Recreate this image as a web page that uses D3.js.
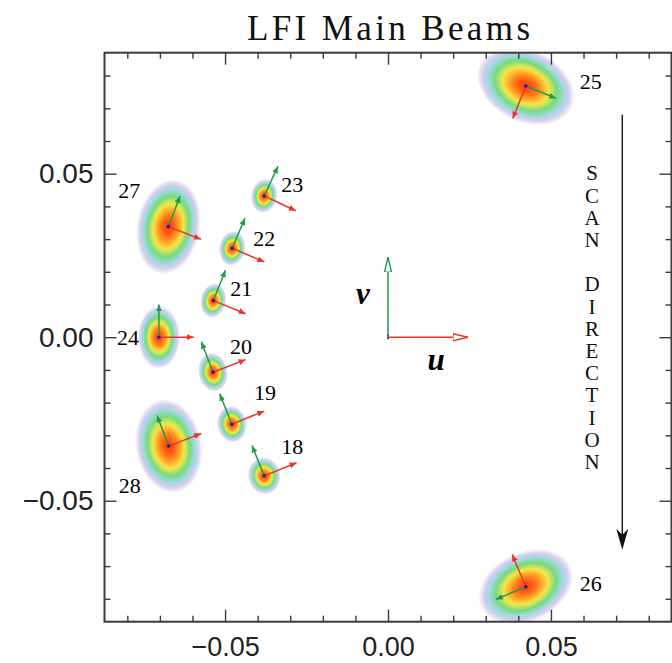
<!DOCTYPE html>
<html>
<head>
<meta charset="utf-8">
<script src="https://cdn.jsdelivr.net/npm/d3@7"></script>
<style>
  html, body { margin: 0; padding: 0; background: #fff; }
  svg { display: block; }
</style>
</head>
<body>
<svg id="chart" width="672" height="663"></svg>
<script>
// Beam identifiers (LFI feed horns)
const beamIds   = ["18", "19", "20", "21", "22", "23", "24", "25", "26", "27", "28"];
// Beam centres in (u, v)
const beamU     = [-0.0380, -0.0479, -0.0537, -0.0536, -0.0478, -0.0380, -0.0703, 0.0423, 0.0423, -0.0674, -0.0673];
const beamV     = [-0.0424, -0.0266, -0.0107, 0.0112, 0.0272, 0.0432, 0.0000, 0.0768, -0.0763, 0.0338, -0.0333];
// Beam extent: semi-major / semi-minor axes (u,v units) and major-axis tilt (deg)
const semiMajor = [0.0058, 0.0057, 0.0061, 0.0054, 0.0054, 0.0053, 0.0098, 0.0160, 0.0155, 0.0150, 0.0148];
const semiMinor = [0.0051, 0.0046, 0.0046, 0.0040, 0.0041, 0.0041, 0.0066, 0.0113, 0.0108, 0.0099, 0.0103];
const tiltDeg   = [100, 100, 100, 80, 80, 80, 90, -25, 25, 80, 100];
// Polarisation frame: angle of the red (u') arrow, deg; green (v') is +90
const polDeg    = [22, 22, 21, -22, -23, -25, 0, -112, 113, -21, 21];

// Axis ticks
const majorTicks  = [-0.05, 0.00, 0.05];
const tickLabels  = ["\u22120.05", "0.00", "0.05"];
const minorTicks  = [-0.08, -0.07, -0.06, -0.04, -0.03, -0.02, -0.01, 0.01, 0.02, 0.03, 0.04, 0.06, 0.07, 0.08];

const titleText = "LFI Main Beams";
const scanText  = "SCAN DIRECTION";

// ---- layout ----
const svg = d3.select("#chart");
const plot = { left: 104.5, right: 671.5, top: 52.7, bottom: 621.7 };
const x = d3.scaleLinear().domain([-0.087, 0.087]).range([plot.left, plot.right]);
const y = d3.scaleLinear().domain([-0.087, 0.087]).range([plot.bottom, plot.top]);
const kx = x(1) - x(0);

// label offsets (px) from each beam centre
const labelOffset = {
  "18": [28, -30], "19": [33, -32], "20": [28, -26], "21": [28, -12], "22": [32, -10],
  "23": [28, -12], "24": [-31, 0], "25": [65, -5], "26": [65, -3], "27": [-39, -36], "28": [-39, 39]
};
const redLen = 0.0107, greenLen = 0.0100, refLen = 0.0245;
const RED = "#ec3426", GREEN = "#239a4a";

const defs = svg.append("defs");

// rainbow beam profile
const grad = defs.append("radialGradient").attr("id", "beamGrad")
  .attr("cx", 0.5).attr("cy", 0.5).attr("r", 0.5);
[
  [0.00, "#ff3a0c", 1], [0.12, "#ff5212", 1], [0.27, "#ff8a1e", 1], [0.38, "#ffbe30", 1],
  [0.46, "#f2e648", 1], [0.54, "#b6e466", 1], [0.62, "#7cd87e", 1], [0.70, "#88dcb6", 1],
  [0.78, "#a8d4e6", 0.95], [0.86, "#c4c2e6", 0.8], [0.94, "#d8d0ec", 0.45], [1.00, "#ffffff", 0]
].forEach(([o, c, op]) => grad.append("stop").attr("offset", o).attr("stop-color", c).attr("stop-opacity", op));

defs.append("clipPath").attr("id", "plotClip").append("rect")
  .attr("x", plot.left).attr("y", plot.top)
  .attr("width", plot.right - plot.left).attr("height", plot.bottom - plot.top);

function headMarker(id, color, len, half, open) {
  defs.append("marker").attr("id", id)
    .attr("markerUnits", "userSpaceOnUse")
    .attr("viewBox", `0 ${-half - 2} ${len + 2} ${2 * half + 4}`)
    .attr("refX", len).attr("refY", 0)
    .attr("markerWidth", len + 2).attr("markerHeight", 2 * half + 4)
    .attr("orient", "auto")
    .append("path")
    .attr("d", `M0,${-half}L${len},0L0,${half}Z`)
    .attr("fill", open ? "#fff" : color)
    .attr("stroke", open ? color : "none")
    .attr("stroke-width", open ? 1.4 : 0);
}
headMarker("hRed", RED, 7, 3, false);
headMarker("hGreen", GREEN, 7, 3, false);
headMarker("oRed", RED, 15, 3.5, true);
headMarker("oGreen", GREEN, 15, 3.5, true);

// ---- title ----
svg.append("text")
  .attr("x", (plot.left + plot.right) / 2 + 0.5).attr("y", 40)
  .attr("text-anchor", "middle")
  .attr("font-family", "'Liberation Serif', 'Times New Roman', serif")
  .attr("font-size", 35)
  .attr("textLength", 283).attr("lengthAdjust", "spacing")
  .attr("fill", "#111")
  .text(titleText);

// ---- beams ----
const beams = beamIds.map((id, i) => ({
  id, u: beamU[i], v: beamV[i], a: semiMajor[i], b: semiMinor[i], tilt: tiltDeg[i], pol: polDeg[i]
}));

const gBeams = svg.append("g").attr("clip-path", "url(#plotClip)");
gBeams.selectAll("circle.beam").data(beams).join("circle")
  .attr("class", "beam")
  .attr("r", 1)
  .attr("transform", d => `translate(${x(d.u)},${y(d.v)}) rotate(${-d.tilt}) scale(${d.a * kx},${d.b * kx})`)
  .attr("fill", "url(#beamGrad)");

const rad = Math.PI / 180;
const gArrows = svg.append("g");
// green (v') arrows
gArrows.selectAll("line.g").data(beams).join("line").attr("class", "g")
  .attr("x1", d => x(d.u)).attr("y1", d => y(d.v))
  .attr("x2", d => x(d.u + greenLen * Math.cos((d.pol + 90) * rad)))
  .attr("y2", d => y(d.v + greenLen * Math.sin((d.pol + 90) * rad)))
  .attr("stroke", GREEN).attr("stroke-width", 1.5)
  .attr("marker-end", "url(#hGreen)");
// red (u') arrows
gArrows.selectAll("line.r").data(beams).join("line").attr("class", "r")
  .attr("x1", d => x(d.u)).attr("y1", d => y(d.v))
  .attr("x2", d => x(d.u + redLen * Math.cos(d.pol * rad)))
  .attr("y2", d => y(d.v + redLen * Math.sin(d.pol * rad)))
  .attr("stroke", RED).attr("stroke-width", 1.5)
  .attr("marker-end", "url(#hRed)");
// centre points
gArrows.selectAll("circle.c").data(beams).join("circle").attr("class", "c")
  .attr("cx", d => x(d.u)).attr("cy", d => y(d.v)).attr("r", 1.8)
  .attr("fill", "#24248a");

// beam labels
svg.append("g").selectAll("text").data(beams).join("text")
  .attr("x", d => x(d.u) + labelOffset[d.id][0])
  .attr("y", d => y(d.v) + labelOffset[d.id][1])
  .attr("dy", "0.35em")
  .attr("text-anchor", "middle")
  .attr("font-family", "'Liberation Serif', 'Times New Roman', serif")
  .attr("font-size", 22)
  .attr("fill", "#000")
  .text(d => d.id);

// ---- u / v reference frame ----
const gRef = svg.append("g");
gRef.append("line")
  .attr("x1", x(0)).attr("y1", y(0)).attr("x2", x(0)).attr("y2", y(refLen))
  .attr("stroke", GREEN).attr("stroke-width", 1.5).attr("marker-end", "url(#oGreen)");
gRef.append("line")
  .attr("x1", x(0)).attr("y1", y(0)).attr("x2", x(refLen)).attr("y2", y(0))
  .attr("stroke", RED).attr("stroke-width", 1.5).attr("marker-end", "url(#oRed)");
gRef.append("rect").attr("x", x(0) - 1).attr("y", y(0) - 3).attr("width", 2).attr("height", 5).attr("fill", "#6a4aa8");
gRef.append("text").attr("x", x(0) - 25).attr("y", y(0) - 44).attr("dy", "0.35em")
  .attr("text-anchor", "middle")
  .attr("font-family", "'Liberation Serif', 'Times New Roman', serif")
  .attr("font-size", 31).attr("font-style", "italic").attr("font-weight", "bold")
  .text("v");
gRef.append("text").attr("x", x(0) + 48).attr("y", y(0) + 22).attr("dy", "0.35em")
  .attr("text-anchor", "middle")
  .attr("font-family", "'Liberation Serif', 'Times New Roman', serif")
  .attr("font-size", 31).attr("font-style", "italic").attr("font-weight", "bold")
  .text("u");

// ---- scan direction ----
const scanX = 0.0719, scanTop = 0.0680, scanBot = -0.0650;
const gScan = svg.append("g");
gScan.append("line")
  .attr("x1", x(scanX)).attr("y1", y(scanTop)).attr("x2", x(scanX)).attr("y2", y(scanBot) - 12)
  .attr("stroke", "#222").attr("stroke-width", 1.5);
const tipX = x(scanX), tipY = y(scanBot);
gScan.append("path")
  .attr("d", `M${tipX},${tipY}L${tipX - 6},${tipY - 21}L${tipX},${tipY - 15}L${tipX + 6},${tipY - 21}Z`)
  .attr("fill", "#111");
gScan.selectAll("text").data(scanText.split("")).join("text")
  .attr("x", 592)
  .attr("y", (d, i) => 173 + i * 22.2)
  .attr("dy", "0.35em")
  .attr("text-anchor", "middle")
  .attr("font-family", "'Liberation Serif', 'Times New Roman', serif")
  .attr("font-size", 21)
  .attr("fill", "#111")
  .text(d => d);

// ---- axes ----
const axisColor = "#3a3a3a";
function styleAxis(g, labelled, fontSize) {
  g.select(".domain").remove();
  g.selectAll(".tick line").attr("stroke", axisColor).attr("stroke-width", 1.4);
  g.selectAll(".tick text")
    .attr("font-family", "'Liberation Sans', Arial, sans-serif")
    .attr("font-size", fontSize).attr("fill", "#222");
  if (!labelled) g.selectAll(".tick text").remove();
}
function addAxis(gen, tx, ty, vals, size, labelled, pad, fontSize) {
  const a = gen.tickValues(vals).tickSize(-size).tickSizeOuter(0).tickPadding(pad || 3)
    .tickFormat(labelled ? (d => tickLabels[majorTicks.indexOf(d)]) : () => "");
  const g = svg.append("g").attr("transform", `translate(${tx},${ty})`).call(a);
  styleAxis(g, labelled, fontSize || 28);
  return g;
}
addAxis(d3.axisBottom(x), 0, plot.bottom, majorTicks, 12, true, 15, 27);
addAxis(d3.axisBottom(x), 0, plot.bottom, minorTicks, 6, false);
addAxis(d3.axisTop(x), 0, plot.top, majorTicks, 12, false);
addAxis(d3.axisTop(x), 0, plot.top, minorTicks, 6, false);
addAxis(d3.axisLeft(y), plot.left, 0, majorTicks, 12, true, 11, 28);
addAxis(d3.axisLeft(y), plot.left, 0, minorTicks, 6, false);
addAxis(d3.axisRight(y), plot.right, 0, majorTicks, 12, false);
addAxis(d3.axisRight(y), plot.right, 0, minorTicks, 6, false);

svg.append("rect")
  .attr("x", plot.left).attr("y", plot.top)
  .attr("width", plot.right - plot.left).attr("height", plot.bottom - plot.top)
  .attr("fill", "none").attr("stroke", axisColor).attr("stroke-width", 2);
</script>
</body>
</html>
